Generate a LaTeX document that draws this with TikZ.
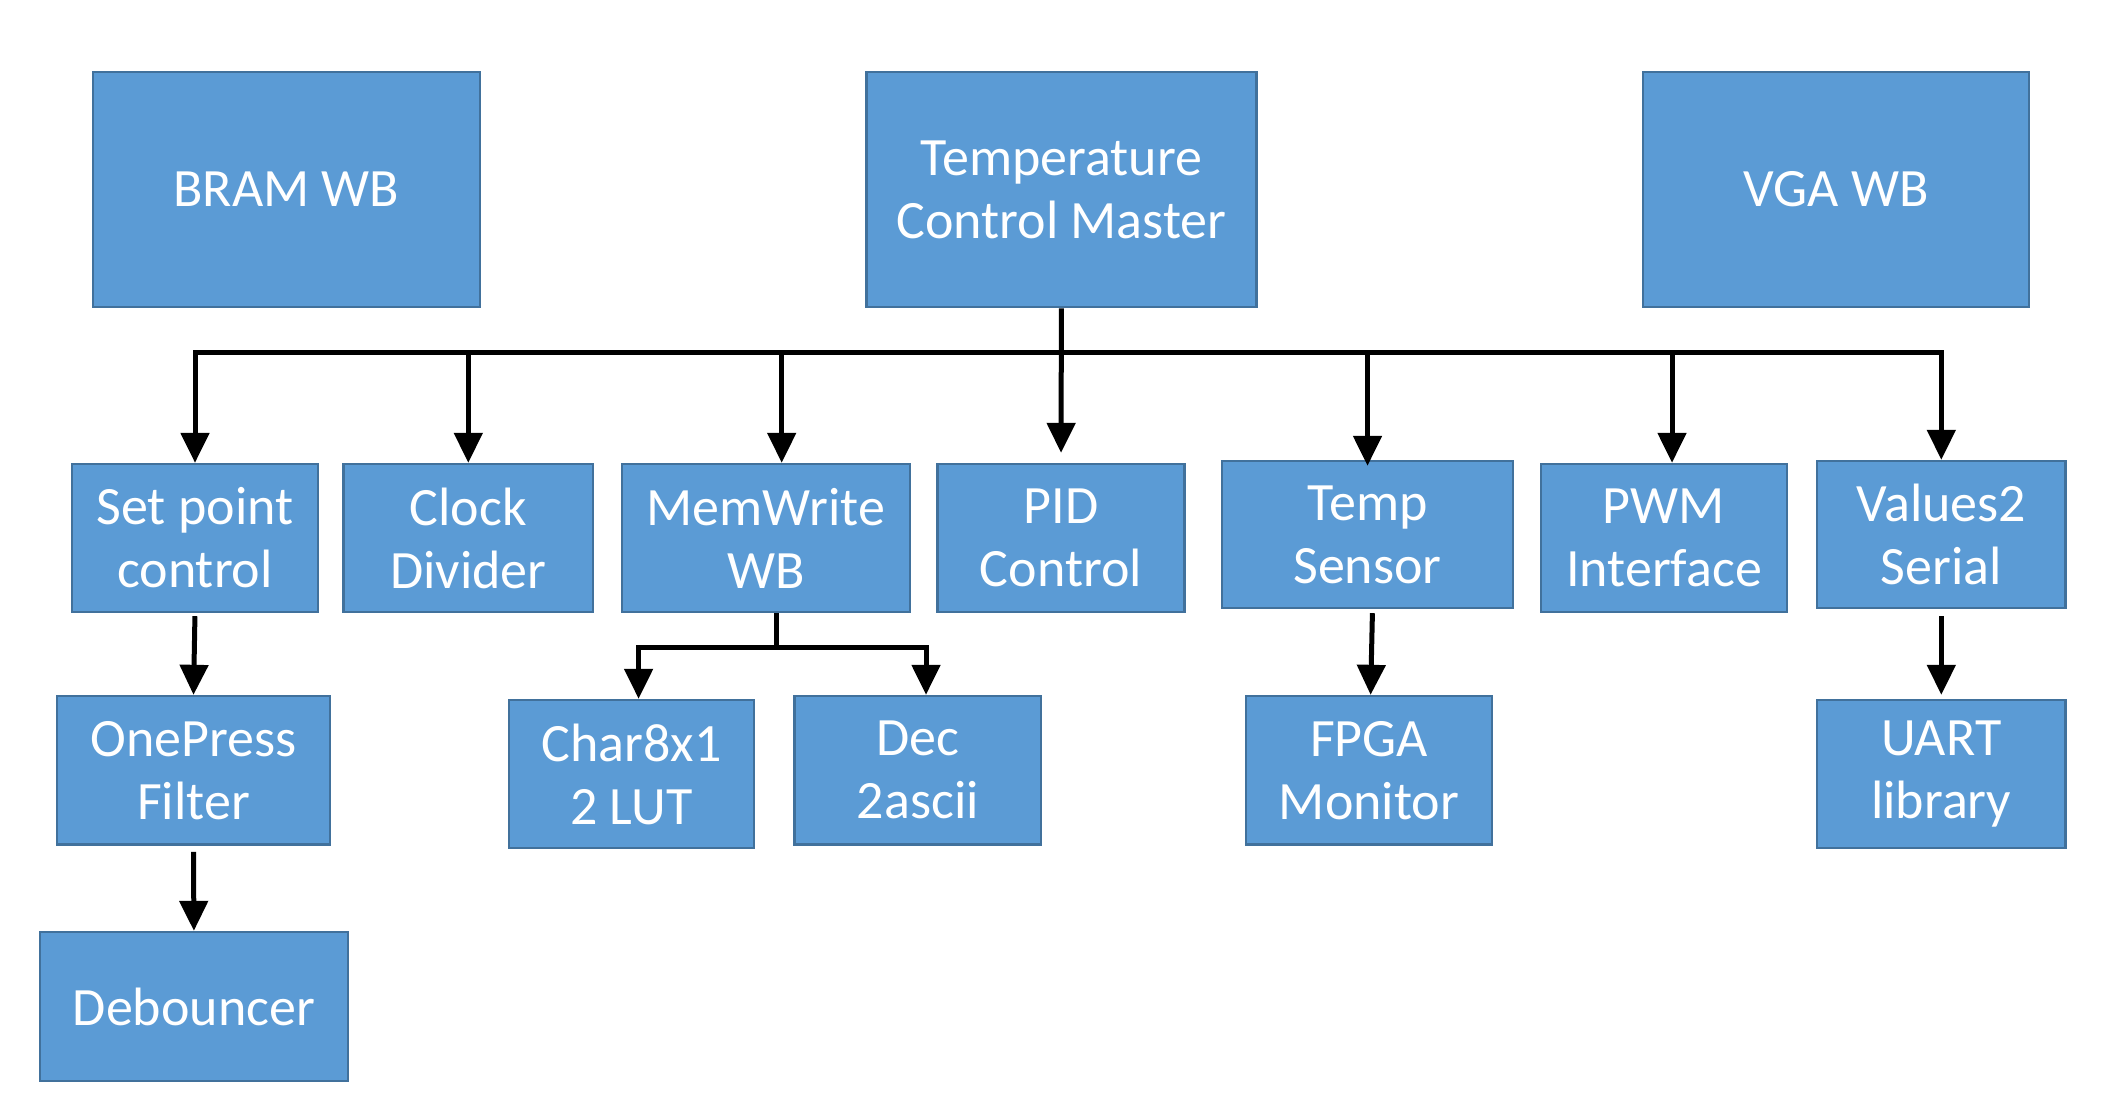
\documentclass[tikz,border=0pt]{standalone}
\usepackage{fontspec}
\setmainfont{Carlito}
\usetikzlibrary{arrows.meta}
\definecolor{boxfill}{HTML}{5B9BD5}
\definecolor{boxline}{HTML}{41719C}
\begin{document}
\begin{tikzpicture}[x=0.5pt,y=-0.5pt,
  box/.style={draw=boxline, line width=1.2pt, fill=boxfill, text=white, align=center,
    inner sep=0pt, font=\fontsize{27}{31.5}\selectfont},
  conn/.style={draw=black, line width=2.5pt},
  arr/.style={conn, -{Triangle[width=14pt,length=15pt]}},
]
\useasboundingbox (0,0) rectangle (2108,1104);
% top row
\node[box, minimum width=193.5pt, minimum height=117.5pt] (bram) at (286.4,189.6) {BRAM WB};
\node[box, minimum width=195pt, minimum height=117.5pt] (master) at (1061.4,189.6) {Temperature\\Control Master};
\node[box, minimum width=192.75pt, minimum height=117.5pt] (vga) at (1836,189.6) {VGA WB};
% second row
\node[box, minimum width=123pt, minimum height=74pt] (sp) at (195,538) {Set point\\control};
\node[box, minimum width=124.75pt, minimum height=74pt] (clk) at (468.3,538) {Clock\\Divider};
\node[box, minimum width=144pt, minimum height=74pt] (mw) at (765.7,538) {MemWrite\\WB};
\node[box, minimum width=123.35pt, minimum height=74pt] (pid) at (1061,538) {PID\\Control};
\node[box, minimum width=145.5pt, minimum height=73.5pt] (ts) at (1367.5,534.5) {Temp\\Sensor};
\node[box, minimum width=123pt, minimum height=74pt] (pwm) at (1664,538) {PWM\\Interface};
\node[box, minimum width=124.3pt, minimum height=73.5pt] (vs) at (1941.3,534.5) {Values2\\Serial};
% third row
\node[box, minimum width=136.5pt, minimum height=74.3pt] (op) at (193.5,770.3) {OnePress\\Filter};
\node[box, minimum width=122.6pt, minimum height=74pt] (char) at (631.4,774) {Char8x1\\2 LUT};
\node[box, minimum width=123.25pt, minimum height=74.3pt] (dec) at (917.8,770.3) {Dec\\2ascii};
\node[box, minimum width=123pt, minimum height=74.3pt] (fpga) at (1369,770.3) {FPGA\\Monitor};
\node[box, minimum width=124.3pt, minimum height=74pt] (uart) at (1941.3,774) {UART\\library};
% fourth row
\node[box, minimum width=154.15pt, minimum height=74.5pt] (deb) at (193.9,1006.5) {Debouncer};

% main bus
\coordinate (bus) at (0,352);
\coordinate (mwin) at ([xshift=8pt]mw.north);
\coordinate (pwmin) at ([xshift=4pt]pwm.north);
\draw[arr, shorten >=5pt] (master.south) -- (pid.north);
\draw[conn, line cap=rect] (sp.north |- bus) -- (vs.north |- bus);
\draw[arr] (sp.north |- bus) -- (sp.north);
\draw[arr] (clk.north |- bus) -- (clk.north);
\draw[arr] (mwin |- bus) -- (mwin);
\draw[arr, shorten >=-3pt] (ts.north |- bus) -- (ts.north);
\draw[arr] (pwmin |- bus) -- (pwmin);
\draw[arr] (vs.north |- bus) -- (vs.north);

% memwrite sub-bus
\coordinate (sb) at (0,647.8);
\coordinate (mwout) at ([xshift=5.35pt]mw.south);
\coordinate (chin) at ([xshift=3.6pt]char.north);
\coordinate (dcin) at ([xshift=4.1pt]dec.north);
\draw[conn] (mwout) -- (mwout |- sb);
\draw[conn, line cap=rect] (chin |- sb) -- (dcin |- sb);
\draw[arr] (chin |- sb) -- (chin);
\draw[arr] (dcin |- sb) -- (dcin);

% vertical chains
\draw[arr, shorten <=1.5pt] (sp.south) -- (op.north);
\draw[arr, shorten <=3pt] (op.south) -- (deb.north);
\draw[arr, shorten <=2pt] ([xshift=2.5pt]ts.south) -- ([xshift=0.8pt]fpga.north);
\draw[arr, shorten <=3.5pt, shorten >=2pt] (vs.south) -- (uart.north);
\end{tikzpicture}
\end{document}
